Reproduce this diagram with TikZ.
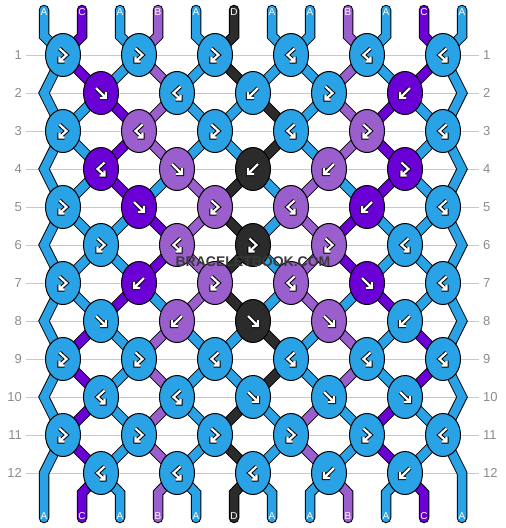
\documentclass[tikz,border=0pt]{standalone}
\usepackage{fontspec}
\setmainfont{Liberation Sans}
\usetikzlibrary{shapes.geometric}
\pgfdeclarelayer{grid}
\pgfdeclarelayer{strands}
\pgfsetlayers{grid,strands,main}
\definecolor{colA}{RGB}{42,163,230}
\definecolor{colB}{RGB}{155,95,205}
\definecolor{colC}{RGB}{106,0,214}
\definecolor{colD}{RGB}{43,43,43}
\definecolor{gridgrey}{RGB}{200,200,200}
\definecolor{numgrey}{RGB}{140,140,140}
\definecolor{markgrey}{RGB}{58,58,58}
\newcommand\myglyph[1]{%
  \draw[black,line width=4.2pt,line cap=square,line join=miter] #1;
  \draw[white,line width=2.2pt,line cap=butt,line join=miter] #1;}
\newcommand\myarrf{\myglyph{(-5,-5) -- (4,4) (5,-1) -- (5,5) -- (-1,5)}}
\newcommand\myarrb{\myglyph{(5,-5) -- (-4,4) (-5,-1) -- (-5,5) -- (1,5)}}
\newcommand\myarrfb{\myglyph{(-3.5,-6.5) -- (3.5,0) -- (-2.5,5.5) (-3.5,1.5) -- (-3.5,6.5) -- (1.5,6.5)}}
\newcommand\myarrbf{\myglyph{(3.5,-6.5) -- (-3.5,0) -- (2.5,5.5) (3.5,1.5) -- (3.5,6.5) -- (-1.5,6.5)}}
\begin{document}
\begin{tikzpicture}[x=1pt,y=-1pt,
  knot/.style={ellipse, draw=black, line width=1pt, minimum width=35pt, minimum height=43pt, inner sep=0pt},
  strand/.style={draw=black, line width=1pt, double=#1, double distance=8.5pt, line cap=round, line join=miter},
  rownum/.style={text=numgrey, font=\fontsize{13}{13}\selectfont, inner sep=0pt},
  endlabel/.style={text=white, font=\fontsize{10}{10}\selectfont, inner sep=0pt},
  watermark/.style={text=markgrey, font=\bfseries\fontsize{14}{14}\selectfont, inner sep=0pt}]
\useasboundingbox (0,0) rectangle (506,528);
% grid lines and row numbers
\begin{pgfonlayer}{grid}
\foreach \r in {1,...,12}{
  \pgfmathsetmacro\yy{17+38*\r}
  \draw[gridgrey, line width=1pt] (26,\yy) -- (479,\yy);
  \node[rownum, anchor=east] (ln\r) at (22,\yy) {\r};
  \node[rownum, anchor=west] (rn\r) at (483,\yy) {\r};
}
\end{pgfonlayer}
% edge points and string ends
\foreach \r in {2,4,...,12}{
  \coordinate (k\r-0) at (44,17+38*\r);
  \coordinate (k\r-12) at (462,17+38*\r);
}
\foreach \p in {1,...,12}{
  \coordinate (top\p) at (6+38*\p,10);
  \coordinate (tb\p) at (6+38*\p,36);
  \coordinate (bb\p) at (6+38*\p,493);
  \coordinate (bot\p) at (6+38*\p,518);
}
% knots
\foreach \r/\lst in {
  1/{1/A/fb,3/A/fb,5/A/fb,7/A/bf,9/A/bf,11/A/bf},
  2/{2/C/f,4/A/bf,6/A/b,8/A/fb,10/C/b},
  3/{1/A/fb,3/B/bf,5/A/fb,7/A/bf,9/B/fb,11/A/bf},
  4/{2/C/bf,4/B/f,6/D/b,8/B/b,10/C/fb},
  5/{1/A/fb,3/C/f,5/B/fb,7/B/bf,9/C/b,11/A/bf},
  6/{2/A/fb,4/B/bf,6/D/fb,8/B/fb,10/A/bf},
  7/{1/A/fb,3/C/b,5/B/fb,7/B/bf,9/C/f,11/A/bf},
  8/{2/A/f,4/B/b,6/D/f,8/B/f,10/A/b},
  9/{1/A/fb,3/A/fb,5/A/bf,7/A/bf,9/A/bf,11/A/bf},
  10/{2/A/bf,4/A/bf,6/A/f,8/A/f,10/A/f},
  11/{1/A/fb,3/A/fb,5/A/fb,7/A/fb,9/A/fb,11/A/bf},
  12/{2/A/bf,4/A/bf,6/A/bf,8/A/b,10/A/b}}{
  \foreach \q/\kcol/\ktype in \lst {
    \node[knot, fill=col\kcol] (k\r-\q) at (25+38*\q,17+38*\r) {};
    \begin{scope}[shift={(k\r-\q.center)}]
      \csname myarr\ktype\endcsname
    \end{scope}
  }
}
\begin{pgfonlayer}{strands}
% top pieces
\foreach \scol [count=\p] in {A,C,A,B,A,D,A,A,B,A,C,A}{
  \pgfmathtruncatemacro\q{\p-mod(\p+1,2)}
  \draw[strand=col\scol] (top\p) -- (tb\p) -- (k1-\q.center);
  \node[endlabel] (tl\p) at (6+38*\p,12.5) {\scol};
}
% knot to knot
\foreach \r/\st in {
  1/{A,C,A,B,A,D,A,A,B,A,C,A},
  2/{A,A,C,B,A,A,D,A,B,C,A,A},
  3/{A,A,C,B,A,A,D,A,B,C,A,A},
  4/{A,A,C,A,B,D,A,B,A,C,A,A},
  5/{A,A,A,C,B,D,A,B,C,A,A,A},
  6/{A,A,A,C,B,D,A,B,C,A,A,A},
  7/{A,A,C,A,B,D,A,B,A,C,A,A},
  8/{A,C,A,B,A,A,D,A,B,A,C,A},
  9/{A,C,A,B,A,A,D,A,B,A,C,A},
  10/{A,C,A,B,A,D,A,B,A,C,A,A},
  11/{A,C,A,B,A,D,A,B,A,C,A,A}}{
  \pgfmathtruncatemacro\rr{\r+1}
  \foreach \scol [count=\p] in \st {
    \ifnum\p>1 \ifnum\p<12
      \pgfmathtruncatemacro\q{\p-mod(\p+\r,2)}
      \pgfmathtruncatemacro\qq{\p-mod(\p+\rr,2)}
      \draw[strand=col\scol] (k\r-\q.center) -- (k\rr-\qq.center);
    \fi\fi
  }
}
% edge strings
\foreach \r in {2,4,...,10}{
  \pgfmathtruncatemacro\ra{\r-1}
  \pgfmathtruncatemacro\rb{\r+1}
  \draw[strand=colA] (k\ra-1.center) -- (k\r-0) -- (k\rb-1.center);
  \draw[strand=colA] (k\ra-11.center) -- (k\r-12) -- (k\rb-11.center);
}
\draw[strand=colA] (k11-1.center) -- (k12-0) -- (bot1);
\draw[strand=colA] (k11-11.center) -- (k12-12) -- (bot12);
% bottom pieces
\foreach \scol [count=\p] in {A,C,A,B,A,D,A,A,B,A,C,A}{
  \ifnum\p>1 \ifnum\p<12
    \pgfmathtruncatemacro\q{\p-mod(\p,2)}
    \draw[strand=col\scol] (k12-\q.center) -- (bb\p) -- (bot\p);
  \fi\fi
  \node[endlabel] (bl\p) at (6+38*\p,516) {\scol};
}
\end{pgfonlayer}
\node[watermark] (wm) at (253,262) {BRACELETBOOK.COM};
\end{tikzpicture}
\end{document}
